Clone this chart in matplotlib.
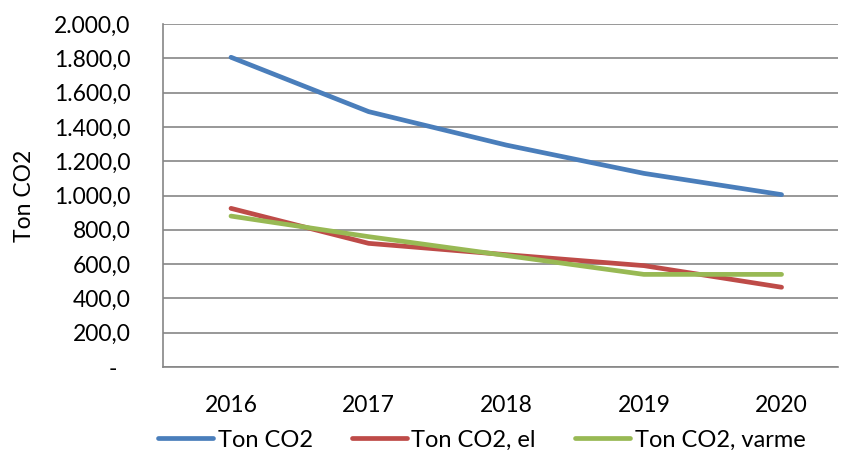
import numpy as np
import matplotlib
matplotlib.use("Agg")
import matplotlib.pyplot as plt
from matplotlib.ticker import FuncFormatter
from matplotlib.transforms import ScaledTranslation

years = ["2016", "2017", "2018", "2019", "2020"]
ton_co2 = [1806, 1489, 1294, 1129, 1005]
ton_co2_el = [925, 721, 655, 591, 465]
ton_co2_varme = [880, 760, 650, 540, 540]

plt.rcParams['font.family'] = ['Lato', 'DejaVu Sans']

fig = plt.figure(figsize=(8.43, 4.5), dpi=100)
ax = fig.add_axes([163/843, 83/450, (838-163)/843, 343/450])

x = np.arange(len(years))
ax.plot(x, ton_co2, color="#4A7EBB", lw=3.4, solid_capstyle="round", label="Ton CO2")
ax.plot(x, ton_co2_el, color="#BE4B48", lw=3.4, solid_capstyle="round", label="Ton CO2, el")
ax.plot(x, ton_co2_varme, color="#98B954", lw=3.4, solid_capstyle="round", label="Ton CO2, varme")

ax.set_ylim(0, 2000)
ax.set_yticks(np.arange(0, 2001, 200))
def fmt(v, pos):
    if v == 0:
        return "-"
    s = f"{v:,.1f}"
    return s.replace(",", "X").replace(".", ",").replace("X", ".")
ax.yaxis.set_major_formatter(FuncFormatter(fmt))
ax.set_xlim(-0.494, 4.41)
ax.set_xticks(x)
ax.set_xticklabels(years)
ax.tick_params(axis="both", length=0, labelsize=16.5, colors="black")
ax.tick_params(axis="x", pad=20)
ax.tick_params(axis="y", pad=23.5)

# the "-" for zero sits a bit left of the other labels (accounting format)
zero_lbl = ax.yaxis.get_major_ticks()[0].label1
zero_lbl.set_transform(zero_lbl.get_transform() + ScaledTranslation(-0.13, 0, fig.dpi_scale_trans))

ax.grid(axis="y", color="#868686", lw=1.2)
ax.set_axisbelow(True)
for s in ["top", "right"]:
    ax.spines[s].set_visible(False)
for s in ["left", "bottom"]:
    ax.spines[s].set_color("#868686")
    ax.spines[s].set_linewidth(1.2)

ax.set_ylabel("Ton CO2", fontsize=16.5)
ax.yaxis.set_label_coords(-0.19, 0.5)

fig.legend(loc="center left", bbox_to_anchor=(158/843, 0.022), ncol=3, frameon=False,
           fontsize=17, handlelength=2.33, handletextpad=0.2, columnspacing=1.65,
           borderpad=0, borderaxespad=0)

fig.savefig("out.png", dpi=100)
